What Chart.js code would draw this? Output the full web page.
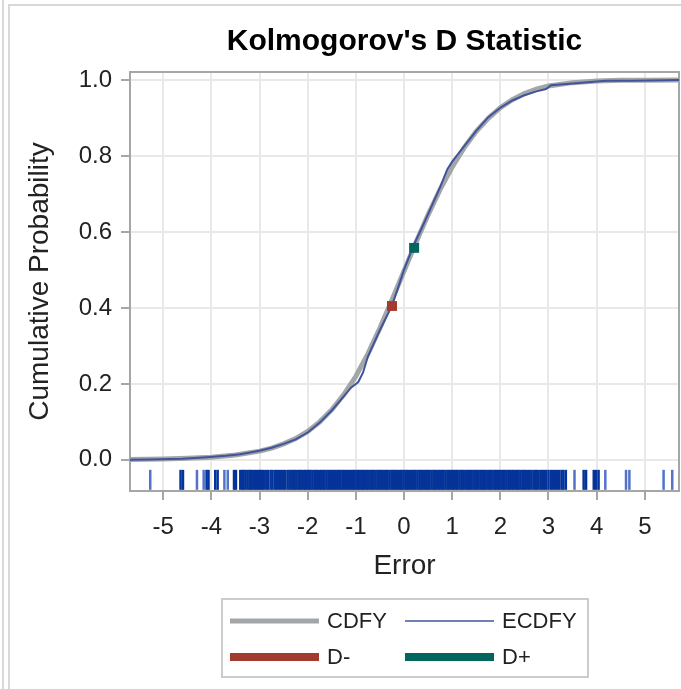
<!DOCTYPE html>
<html>
<head>
<meta charset="utf-8">
<title>Kolmogorov's D Statistic</title>
<script src="https://cdn.jsdelivr.net/npm/chart.js@4/dist/chart.umd.min.js"></script>
<style>
  html, body { margin: 0; padding: 0; background: #ffffff; }
  #wrap { position: relative; width: 681px; height: 689px; }
  canvas { display: block; }
</style>
</head>
<body>
<div id="wrap"><canvas id="ksChart" width="681" height="689"></canvas></div>
<script>
// Axis ticks
const xTickValues = [-5, -4, -3, -2, -1, 0, 1, 2, 3, 4, 5];
const yTickValues = [0, 0.2, 0.4, 0.6, 0.8, 1.0];

// Fitted cumulative distribution (CDFY)
const cdfX = [-5.69, -5.0, -4.5, -4.0, -3.5, -3.0, -2.75, -2.5, -2.25, -2.0, -1.75, -1.5, -1.25, -1.0, -0.75, -0.5, -0.25, 0.0,
              0.25, 0.5, 0.75, 1.0, 1.25, 1.5, 1.75, 2.0, 2.25, 2.5, 2.75, 3.0, 3.5, 4.0, 4.5, 5.0, 5.71];
const cdfY = [0.001, 0.002, 0.004, 0.007, 0.013, 0.023, 0.031, 0.042, 0.056, 0.075, 0.100, 0.132, 0.172, 0.220, 0.279, 0.347, 0.421, 0.497,
              0.573, 0.645, 0.712, 0.771, 0.822, 0.865, 0.899, 0.927, 0.948, 0.964, 0.976, 0.984, 0.993, 0.997, 0.999, 0.9995, 1.0];

// Empirical cumulative distribution (ECDFY)
const ecdfX = [-5.69, -5.27, -4.6, -4.1, -3.7, -3.4, -3.0, -2.75, -2.5, -2.25, -2.0, -1.75, -1.5, -1.3, -1.1, -0.95, -0.85, -0.75, -0.5,
               -0.25, -0.1, 0.0, 0.2, 0.35, 0.5, 0.75, 0.9, 1.0, 1.25, 1.5, 1.75, 2.0, 2.25, 2.5, 2.75, 2.95, 3.05, 3.5, 4.0, 4.2, 4.7, 5.4, 5.71];
const ecdfY = [0.000, 0.001, 0.003, 0.007, 0.011, 0.015, 0.024, 0.032, 0.042, 0.054, 0.072, 0.098, 0.130, 0.160, 0.190, 0.205, 0.230, 0.272, 0.342,
               0.406, 0.462, 0.500, 0.565, 0.605, 0.647, 0.718, 0.765, 0.785, 0.826, 0.866, 0.902, 0.927, 0.946, 0.960, 0.970, 0.976, 0.986, 0.991, 0.996, 0.998, 0.998, 0.999, 1.0];

// Largest deviations
const dMinusX = [-0.25, -0.25];
const dMinusY = [0.392, 0.418];
const dPlusX = [0.21, 0.21];
const dPlusY = [0.545, 0.571];

// Observed errors shown as a rug along the bottom
const rugX = [-5.27, -4.64, -4.59, -4.30, -4.16, -4.10, -4.06, -3.92, -3.87, -3.73, -3.66, -3.53, -3.49,
  -3.40, -3.36, -3.33, -3.29, -3.25, -3.21, -3.18, -3.14, -3.10, -3.06, -3.03, -2.99, -2.95, -2.91, -2.86, -2.82, -2.77, -2.73,
  -2.68, -2.64, -2.60, -2.55, -2.51, -2.47, -2.42, -2.38, -2.34, -2.30, -2.27, -2.23, -2.19, -2.16, -2.12, -2.08, -2.05, -2.01,
  -1.97, -1.94, -1.90, -1.86, -1.83, -1.79, -1.75, -1.72, -1.68, -1.65, -1.61, -1.57, -1.54, -1.50, -1.46, -1.43, -1.39, -1.35,
  -1.32, -1.28, -1.25, -1.21, -1.17, -1.14, -1.10, -1.06, -1.03, -0.99, -0.95, -0.92, -0.88, -0.85, -0.81, -0.77, -0.74, -0.70,
  -0.66, -0.63, -0.59, -0.55, -0.52, -0.48, -0.45, -0.41, -0.37, -0.34, -0.30, -0.26, -0.23, -0.19, -0.16, -0.12, -0.08, -0.05,
  -0.01, 0.03, 0.06, 0.10, 0.14, 0.17, 0.21, 0.24, 0.28, 0.32, 0.35, 0.39, 0.43, 0.46, 0.50, 0.53, 0.57, 0.61, 0.64, 0.68, 0.72,
  0.75, 0.79, 0.82, 0.86, 0.90, 0.93, 0.97, 1.01, 1.04, 1.08, 1.11, 1.15, 1.19, 1.22, 1.26, 1.30, 1.33, 1.37, 1.40, 1.44, 1.48,
  1.51, 1.55, 1.59, 1.62, 1.66, 1.69, 1.73, 1.77, 1.80, 1.84, 1.88, 1.91, 1.95, 1.98, 2.02, 2.06, 2.09, 2.13, 2.17, 2.20, 2.24,
  2.27, 2.31, 2.35, 2.38, 2.42, 2.46, 2.49, 2.53, 2.57, 2.61, 2.65, 2.70, 2.74, 2.78, 2.83, 2.87, 2.91, 2.95, 3.00, 3.05, 3.09,
  3.13, 3.18, 3.22, 3.27, 3.31, 3.36,
  3.54, 3.73, 3.78, 3.94, 3.99, 4.04, 4.18, 4.61, 4.68, 5.39, 5.57];
const rugLevel = -0.0526;

const FONT = '"Liberation Sans", Arial, Helvetica, sans-serif';
const toPoints = (xs, ys) => xs.map((x, i) => ({ x: x, y: ys[i] }));

// Isolated rug marks render lighter than the packed band in the middle
function rugColor(ctx) {
  const i = ctx.dataIndex;
  if (i === undefined) return '#043499';
  const prev = i > 0 ? rugX[i] - rugX[i - 1] : 1;
  const next = i < rugX.length - 1 ? rugX[i + 1] - rugX[i] : 1;
  return Math.min(prev, next) > 0.06 ? 'rgba(40, 80, 185, 0.8)' : '#043499';
}

// Page frame lines around the output panel
const pageFrame = {
  id: 'pageFrame',
  beforeDraw(chart) {
    const ctx = chart.ctx;
    ctx.save();
    ctx.fillStyle = '#ffffff';
    ctx.fillRect(0, 0, chart.width, chart.height);
    ctx.fillStyle = '#d8d8d8';
    ctx.fillRect(2, 0, 2, chart.height);
    ctx.fillRect(8, 4, 2, chart.height - 4);
    ctx.fillRect(8, 4, chart.width - 8, 2);
    ctx.restore();
  }
};

// Box around the plotting area
const plotFrame = {
  id: 'plotFrame',
  beforeDatasetsDraw(chart) {
    const a = chart.chartArea, ctx = chart.ctx;
    ctx.save();
    ctx.strokeStyle = '#a6a6a6';
    ctx.lineWidth = 2;
    ctx.strokeRect(a.left, a.top, a.right - a.left, a.bottom - a.top);
    ctx.restore();
  }
};

// Two-column legend in a box under the axis
const boxLegend = {
  id: 'boxLegend',
  afterDraw(chart) {
    const ctx = chart.ctx;
    const ds = chart.data.datasets;
    const box = { x: 222, y: 599, w: 366, h: 78 };
    const cells = [
      { i: 0, x: 230, y: 621 }, { i: 1, x: 405, y: 621 },
      { i: 2, x: 230, y: 657 }, { i: 3, x: 405, y: 657 }
    ];
    ctx.save();
    ctx.strokeStyle = '#cccccc';
    ctx.lineWidth = 2;
    ctx.strokeRect(box.x, box.y, box.w, box.h);
    ctx.font = '22px ' + FONT;
    ctx.textBaseline = 'middle';
    ctx.textAlign = 'left';
    cells.forEach(c => {
      const d = ds[c.i];
      ctx.strokeStyle = d.borderColor;
      ctx.lineWidth = d.legendWidth;
      ctx.lineCap = 'butt';
      ctx.beginPath();
      ctx.moveTo(c.x, c.y);
      ctx.lineTo(c.x + 89, c.y);
      ctx.stroke();
      ctx.fillStyle = '#222222';
      ctx.fillText(d.label, c.x + 97, c.y + 1);
    });
    ctx.restore();
  }
};

new Chart(document.getElementById('ksChart'), {
  type: 'scatter',
  data: {
    datasets: [
      { label: 'CDFY', data: toPoints(cdfX, cdfY), showLine: true, pointRadius: 0,
        borderColor: '#a3a6a9', borderWidth: 5, legendWidth: 5, order: 4 },
      { label: 'ECDFY', data: toPoints(ecdfX, ecdfY), showLine: true, pointRadius: 0,
        borderColor: '#40549c', borderWidth: 2, legendWidth: 1.5, order: 3 },
      { label: 'D-', data: toPoints(dMinusX, dMinusY), showLine: true, pointRadius: 0,
        borderColor: '#a23a2e', borderWidth: 10, legendWidth: 8, order: 1 },
      { label: 'D+', data: toPoints(dPlusX, dPlusY), showLine: true, pointRadius: 0,
        borderColor: '#01665e', borderWidth: 10, legendWidth: 8, order: 1 },
      { label: 'Error', data: rugX.map(x => ({ x: x, y: rugLevel })), showLine: false,
        pointStyle: 'line', rotation: 90, pointRadius: 10, pointHoverRadius: 10,
        borderColor: rugColor, borderWidth: 2.5, order: 5 }
    ]
  },
  options: {
    responsive: false,
    devicePixelRatio: 1,
    animation: false,
    events: [],
    layout: { autoPadding: false, padding: { left: 0, right: 2, top: 0, bottom: 103 } },
    plugins: {
      legend: { display: false },
      tooltip: { enabled: false },
      title: {
        display: true,
        text: "Kolmogorov's D Statistic",
        fullSize: false,
        color: '#000000',
        font: { family: FONT, size: 30, weight: 'bold' },
        padding: { top: 24, bottom: 12 }
      }
    },
    scales: {
      x: {
        type: 'linear',
        min: -5.69,
        max: 5.71,
        afterBuildTicks: s => { s.ticks = xTickValues.map(v => ({ value: v })); },
        afterFit: s => { s.height = 95; s.paddingLeft = 0; s.paddingRight = 0; },
        ticks: { color: '#222222', font: { family: FONT, size: 24 }, padding: 13,
                 maxRotation: 0, autoSkip: false, callback: v => String(v) },
        grid: { color: '#e9e9e9', lineWidth: 2, drawTicks: true, tickLength: 9,
                tickColor: '#a6a6a6', tickWidth: 2 },
        border: { display: false },
        title: { display: true, text: 'Error', color: '#222222',
                 font: { family: FONT, size: 28 }, padding: { top: 0, bottom: 3 } }
      },
      y: {
        type: 'linear',
        min: -0.082,
        max: 1.021,
        afterBuildTicks: s => { s.ticks = yTickValues.map(v => ({ value: v })); },
        afterFit: s => { s.width = 130; s.paddingTop = 0; s.paddingBottom = 0; },
        ticks: { color: '#222222', font: { family: FONT, size: 24 }, padding: 9,
                 autoSkip: false, callback: v => v.toFixed(1) },
        grid: { color: '#e9e9e9', lineWidth: 2, drawTicks: true, tickLength: 9,
                tickColor: '#a6a6a6', tickWidth: 2 },
        border: { display: false },
        title: { display: true, text: 'Cumulative Probability', color: '#222222',
                 font: { family: FONT, size: 28 }, padding: { top: 23, bottom: 0 } }
      }
    }
  },
  plugins: [pageFrame, plotFrame, boxLegend]
});
</script>
</body>
</html>
